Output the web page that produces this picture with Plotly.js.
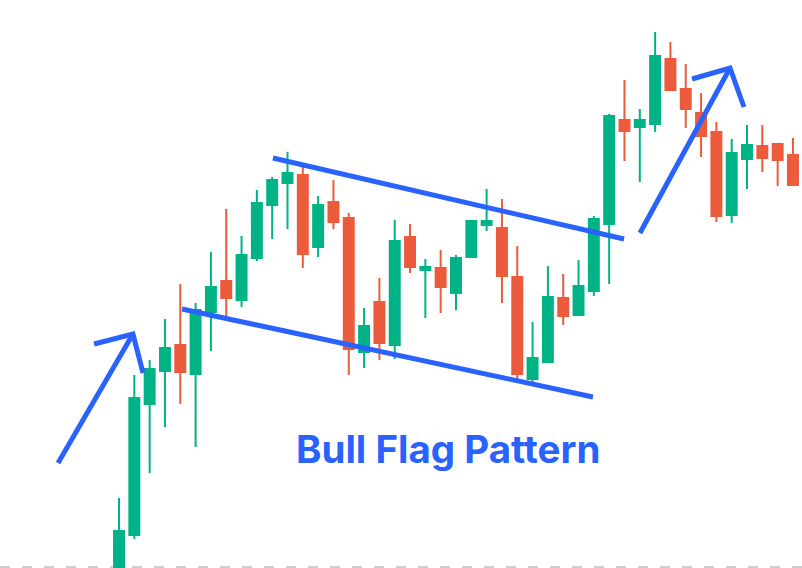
<!DOCTYPE html>
<html>
<head>
<meta charset="utf-8">
<script src="https://cdn.plot.ly/plotly-3.0.1.min.js"></script>
<style>
  html, body { margin: 0; padding: 0; background: #ffffff; }
  #chart { width: 802px; height: 568px; }
</style>
</head>
<body>
<div id="chart"></div>
<script>
// candle values (arbitrary price units)
const openVals  = [-32, 33, 164, 197, 223, 194, 256, 287, 268, 310, 363, 385, 393, 321, 366, 350, 216, 266, 223, 331, 298, 300, 275, 311, 343, 340, 291, 189, 206, 270, 253, 277, 344, 448, 441, 444, 509, 479, 455, 436, 353, 409, 422, 424, 413];
const highVals  = [70, 193, 208, 249, 284, 265, 316, 359, 332, 378, 391, 416, 401, 372, 388, 355, 260, 290, 348, 344, 309, 318, 313, 348, 379, 369, 322, 246, 302, 294, 308, 352, 454, 488, 459, 536, 526, 504, 475, 446, 429, 443, 443, 424, 430];
const lowVals   = [-37, 29, 95, 141, 164, 121, 217, 250, 261, 307, 329, 339, 300, 311, 339, 193, 200, 208, 209, 295, 250, 255, 258, 311, 337, 265, 188, 186, 205, 243, 253, 272, 284, 407, 386, 436, 478, 440, 411, 346, 345, 379, 396, 382, 382];
const closeVals = [37, 170, 199, 220, 196, 258, 281, 270, 313, 365, 388, 395, 314, 363, 346, 219, 242, 225, 327, 301, 301, 281, 310, 347, 347, 292, 194, 210, 271, 252, 282, 349, 452, 437, 448, 512, 478, 459, 432, 352, 415, 423, 410, 408, 383];

// drawn pattern lines: [candle index, price]
const arrowUpX    = [-3.98, 0.91];
const arrowUpY    = [105, 234];
const arrowUpHeadX = [-1.63, 0.91, 1.57];
const arrowUpHeadY = [224, 234, 195];
const flagLowX    = [4.11, 30.94];
const flagLowY    = [259, 171];
const flagHighX   = [10.05, 32.97];
const flagHighY   = [410, 329];
const arrowOutX   = [34.01, 39.89];
const arrowOutY   = [335, 500];
const arrowOutHeadX = [37.41, 39.89, 40.80];
const arrowOutHeadY = [489, 500, 461];

const labelText = "Bull Flag Pattern";

const GREEN = "#00B386";
const RED = "#EB5B3C";
const BLUE = "#2962FF";

window.addEventListener("DOMContentLoaded", init);


function init() {
    let data = dataset();
    Plotly.newPlot("chart", data, chartLayout(), { staticPlot: true, displayModeBar: false });
}


function dataset() {
    let x = [];
    for (let i = 0; i < openVals.length; i++) {
        x.push(i);
    }

    let candles = {
        type: "candlestick",
        x: x,
        open: openVals,
        high: highVals,
        low: lowVals,
        close: closeVals,
        increasing: { line: { color: GREEN, width: 2 }, fillcolor: GREEN },
        decreasing: { line: { color: RED, width: 2 }, fillcolor: RED },
        whiskerwidth: 0,
        hoverinfo: "skip"
    };

    let traces = [candles];
    traces.push(blueLine(arrowUpX, arrowUpY));
    traces.push(blueLine(arrowUpHeadX, arrowUpHeadY));
    traces.push(blueLine(flagLowX, flagLowY));
    traces.push(blueLine(flagHighX, flagHighY));
    traces.push(blueLine(arrowOutX, arrowOutY));
    traces.push(blueLine(arrowOutHeadX, arrowOutHeadY));
    return traces;
}


function blueLine(xs, ys) {
    return {
        type: "scatter",
        mode: "lines",
        x: xs,
        y: ys,
        line: { color: BLUE, width: 5 },
        hoverinfo: "skip"
    };
}


function chartLayout() {
    return {
        width: 802,
        height: 568,
        margin: { l: 0, r: 0, t: 0, b: 0 },
        paper_bgcolor: "#ffffff",
        plot_bgcolor: "#ffffff",
        showlegend: false,
        boxgap: 0.35,
        boxgroupgap: 0,
        xaxis: {
            range: [-7.77, 44.59],
            visible: false,
            fixedrange: true,
            rangeslider: { visible: false }
        },
        yaxis: {
            range: [0, 568],
            visible: false,
            fixedrange: true
        },
        shapes: [{
            type: "line",
            xref: "paper", yref: "y",
            x0: 0, x1: 1, y0: 1, y1: 1,
            layer: "below",
            line: { color: "#9E9E9E", width: 1, dash: "10px,12px" }
        }],
        annotations: [{
            text: labelText,
            xref: "paper", yref: "paper",
            x: 0.559, y: 0.2095,
            xanchor: "center", yanchor: "middle",
            showarrow: false,
            font: { family: "Inter, 'Open Sans', sans-serif", size: 38.5, weight: 700, color: BLUE }
        }]
    };
}
</script>
</body>
</html>
